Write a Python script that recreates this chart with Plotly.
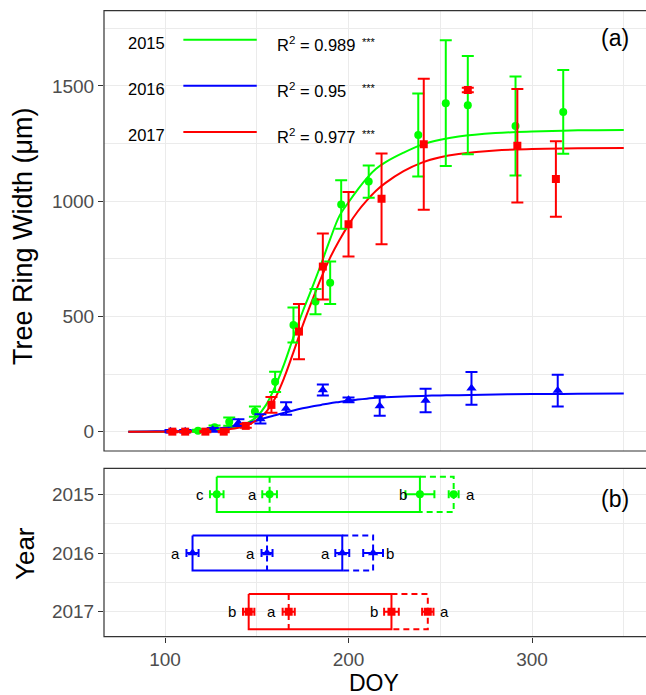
import plotly.graph_objects as go

# ---------------- data (panel a) ----------------
years = ["2015", "2016", "2017"]
colors = ["#00FF00", "#0000FF", "#FF0000"]
symbols = ["circle", "triangle-up", "square"]
r2_text = ["0.989", "0.95", "0.977"]

doy_2015 = [118, 127, 135, 149, 160, 170, 182, 190, 196, 211, 238, 253, 265, 291, 317]
trw_2015 = [4, 19, 43, 87, 216, 463, 564, 646, 985, 1085, 1287, 1425, 1416, 1326, 1387]
se_2015 = [4, 8, 18, 22, 44, 76, 55, 92, 105, 70, 180, 273, 213, 215, 182]

doy_2016 = [103, 111, 126, 140, 152, 166, 186, 200, 217, 242, 267, 314]
trw_2016 = [2, 2, 8, 39, 55, 100, 181, 138, 111, 135, 188, 178]
se_2016 = [5, 5, 8, 15, 20, 27, 24, 10, 42, 51, 71, 69]

doy_2017 = [104, 111, 122, 132, 144, 158, 173, 186, 200, 218, 241, 265, 292, 313]
trw_2017 = [0, 0, 0, 0, 25, 116, 434, 716, 900, 1010, 1247, 1482, 1240, 1096]
se_2017 = [3, 3, 3, 3, 8, 34, 120, 143, 140, 197, 284, 10, 246, 164]

fit_doy = [80, 90, 100, 110, 120, 130, 140, 145, 150, 155, 160, 165, 170, 175, 180, 185,
           190, 195, 200, 205, 210, 215, 220, 230, 240, 250, 260, 280, 300, 325, 350]
fit_2015 = [0, 0, 0, 1, 3, 8, 22, 38, 65, 115, 195, 295, 410, 520, 620, 725,
            835, 935, 995, 1050, 1100, 1140, 1168, 1210, 1245, 1266, 1280, 1295, 1302, 1307, 1309]
fit_2016 = [0, 1, 2, 4, 8, 15, 28, 37, 48, 60, 71, 82, 92, 101, 109, 116,
            123, 129, 135, 139, 143, 147, 149, 152, 155, 157, 158, 161, 163, 164, 165]
fit_2017 = [0, 0, 0, 0, 2, 6, 17, 28, 50, 85, 145, 235, 345, 460, 565, 665,
            755, 830, 897, 955, 1003, 1045, 1078, 1130, 1167, 1190, 1204, 1220, 1226, 1229, 1230]

# ---------------- data (panel b) ----------------
year_num = [2015, 2016, 2017]
p_start = [128.2, 115.0, 145.6]
p_mid = [157.0, 155.6, 167.4]
p_end = [238.9, 196.6, 223.4]
p_cease = [257.3, 213.4, 243.2]
e_start = [3.7, 3.3, 3.1]
e_mid = [4.0, 3.0, 3.3]
e_end = [7.9, 3.8, 4.0]
e_cease = [2.7, 5.4, 3.1]
let_start = ["c", "a", "b"]
let_mid = ["a", "a", "a"]
let_end = ["b", "a", "b"]
let_cease = ["a", "b", "a"]

pts = [(doy_2015, trw_2015, se_2015), (doy_2016, trw_2016, se_2016), (doy_2017, trw_2017, se_2017)]
fits = [fit_2015, fit_2016, fit_2017]

fig = go.Figure()
FONT = "Liberation Sans, Arial, sans-serif"

# fitted curves
for i in range(3):
    fig.add_trace(go.Scatter(x=fit_doy, y=fits[i], mode="lines", line=dict(color=colors[i], width=2, shape="spline"),
                             xaxis="x", yaxis="y", hoverinfo="skip"))
# observed points
for i in range(3):
    d, v, e = pts[i]
    fig.add_trace(go.Scatter(x=d, y=v, mode="markers",
                             marker=dict(color=colors[i], symbol=symbols[i], size=9 if i == 1 else 8),
                             error_y=dict(type="data", array=e, color=colors[i], thickness=2, width=6),
                             xaxis="x", yaxis="y"))

# legend-like annotation (drawn in data space)
leg_y = [1700, 1500, 1300]
for i in range(3):
    fig.add_trace(go.Scatter(x=[110, 150], y=[leg_y[i], leg_y[i]], mode="lines",
                             line=dict(color=colors[i], width=2), xaxis="x", yaxis="y", hoverinfo="skip"))
annotations = []
for i in range(3):
    annotations.append(dict(x=90, y=leg_y[i], xref="x", yref="y", text=years[i], showarrow=False,
                            xanchor="center", yanchor="middle", yshift=-3,
                            font=dict(size=16.5, color="black", family=FONT)))
    annotations.append(dict(x=160, y=leg_y[i], xref="x", yref="y",
                            text="R<sup>2</sup> = " + r2_text[i], showarrow=False,
                            xanchor="left", yanchor="middle", yshift=-4,
                            font=dict(size=16.5, color="black", family=FONT)))
    annotations.append(dict(x=206, y=leg_y[i], xref="x", yref="y", text="***", showarrow=False,
                            xanchor="left", yanchor="middle", yshift=-2,
                            font=dict(size=11, color="black", family=FONT)))

# ---------------- panel b ----------------
H = 0.3
DASH = "6px,4px"
for i in range(3):
    y = year_num[i]
    c = colors[i]
    fig.add_trace(go.Scatter(x=[p_start[i], p_end[i], p_end[i], p_start[i], p_start[i]],
                             y=[y - H, y - H, y + H, y + H, y - H], mode="lines",
                             line=dict(color=c, width=2), xaxis="x2", yaxis="y2", hoverinfo="skip"))
    fig.add_trace(go.Scatter(x=[p_end[i], p_cease[i], p_cease[i], p_end[i]],
                             y=[y - H, y - H, y + H, y + H], mode="lines",
                             line=dict(color=c, width=2, dash=DASH), xaxis="x2", yaxis="y2", hoverinfo="skip"))
    fig.add_trace(go.Scatter(x=[p_mid[i], p_mid[i]], y=[y - H, y + H], mode="lines",
                             line=dict(color=c, width=2, dash=DASH), xaxis="x2", yaxis="y2", hoverinfo="skip"))
    xs = [p_start[i], p_mid[i], p_end[i], p_cease[i]]
    es = [e_start[i], e_mid[i], e_end[i], e_cease[i]]
    fig.add_trace(go.Scatter(x=xs, y=[y] * 4, mode="markers",
                             marker=dict(color=c, symbol=symbols[i], size=9 if i == 1 else 8),
                             error_x=dict(type="data", array=es, color=c, thickness=2, width=4),
                             xaxis="x2", yaxis="y2"))
    lets = [let_start[i], let_mid[i], let_end[i], let_cease[i]]
    for k in range(4):
        annotations.append(dict(x=xs[k], y=y, xref="x2", yref="y2", text=lets[k], showarrow=False,
                                xanchor="center", yanchor="middle", xshift=(17 if k == 3 else -17),
                                font=dict(size=15, color="black", family=FONT)))

# panel labels
annotations.append(dict(x=345, y=1708, xref="x", yref="y", text="(a)", showarrow=False,
                        font=dict(size=23, color="black", family=FONT)))
annotations.append(dict(x=345, y=2015.08, xref="x2", yref="y2", text="(b)", showarrow=False,
                        font=dict(size=23, color="black", family=FONT)))

W, HT = 646, 695
L = 104
PW = W - L
def px_x(p):
    return (p - L) / PW
def px_y(p):
    return (HT - p) / HT

annotations.append(dict(x=px_x(23), y=px_y(236), xref="paper", yref="paper", text="Tree Ring Width (μm)",
                        textangle=-90, showarrow=False, xanchor="center", yanchor="middle",
                        font=dict(size=27, color="black", family=FONT)))
annotations.append(dict(x=px_x(25), y=px_y(554), xref="paper", yref="paper", text="Year",
                        textangle=-90, showarrow=False, xanchor="center", yanchor="middle",
                        font=dict(size=26, color="black", family=FONT)))
annotations.append(dict(x=px_x(374), y=px_y(683), xref="paper", yref="paper", text="DOY",
                        showarrow=False, xanchor="center", yanchor="middle",
                        font=dict(size=23, color="black", family=FONT)))

top_dom = [px_y(451), px_y(10.7)]
bot_dom = [px_y(636.7), px_y(468.3)]
xr = [66.76, 362.1]
grid = "#EBEBEB"
tickfont = dict(size=19, color="#4D4D4D", family=FONT)

shapes = [
    dict(type="rect", xref="paper", yref="paper", x0=0, x1=1.02, y0=top_dom[0], y1=top_dom[1],
         line=dict(color="#333333", width=1.2), layer="above"),
    dict(type="rect", xref="paper", yref="paper", x0=0, x1=1.02, y0=bot_dom[0], y1=bot_dom[1],
         line=dict(color="#333333", width=1.2), layer="above"),
]

fig.update_layout(
    width=W, height=HT, margin=dict(l=L, r=0, t=0, b=0),
    plot_bgcolor="white", paper_bgcolor="white", showlegend=False,
    font=dict(family=FONT),
    xaxis=dict(domain=[0, 1], anchor="y", range=xr, showticklabels=False, ticks="",
               tick0=0, dtick=100, showgrid=True, gridcolor=grid, gridwidth=1.2, zeroline=False,
               minor=dict(tick0=0, dtick=50, showgrid=True, gridcolor=grid, gridwidth=0.8)),
    yaxis=dict(domain=top_dom, anchor="x", range=[-84, 1826], tick0=0, dtick=500,
               ticks="outside", ticklen=5, tickwidth=1.2, tickcolor="#333333", tickfont=tickfont,
               showgrid=True, gridcolor=grid, gridwidth=1.2, zeroline=False,
               minor=dict(tick0=0, dtick=250, showgrid=True, gridcolor=grid, gridwidth=0.8)),
    xaxis2=dict(domain=[0, 1], anchor="y2", range=xr, tick0=0, dtick=100,
                ticks="outside", ticklen=5, tickwidth=1.2, tickcolor="#333333", tickfont=tickfont,
                showgrid=True, gridcolor=grid, gridwidth=1.2, zeroline=False,
                minor=dict(tick0=0, dtick=50, showgrid=True, gridcolor=grid, gridwidth=0.8)),
    yaxis2=dict(domain=bot_dom, anchor="x2", range=[2017.426, 2014.557],
                tickvals=year_num, ticktext=years,
                ticks="outside", ticklen=5, tickwidth=1.2, tickcolor="#333333", tickfont=tickfont,
                showgrid=True, gridcolor=grid, gridwidth=1.2, zeroline=False,
                minor=dict(tickvals=[2015.5, 2016.5], showgrid=True, gridcolor=grid, gridwidth=0.8)),
    annotations=annotations, shapes=shapes,
)

fig.write_html("out.html", config={"displayModeBar": False},
               post_script="document.body.style.margin='0';document.body.style.overflow='hidden';")
